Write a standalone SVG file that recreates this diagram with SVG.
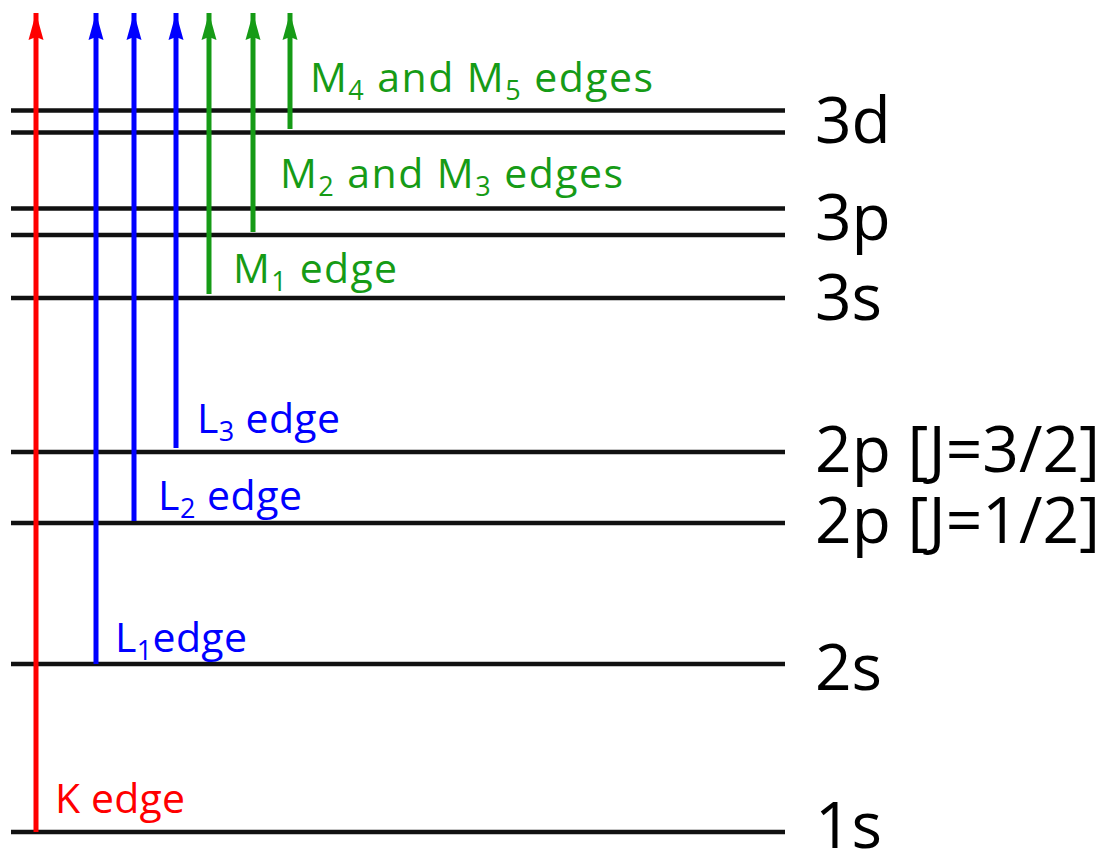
<svg xmlns="http://www.w3.org/2000/svg" width="1109" height="854" viewBox="0 0 1109 854">
<style>
.lvl{stroke:#111;stroke-width:4.5;fill:none}
.lab{font-family:"Open Sans","Noto Sans",sans-serif;font-size:64px;fill:#000}
.e{font-family:"Open Sans","Noto Sans",sans-serif;font-size:41px}
.sub{font-size:27px}
.r{fill:#ff0000}.b{fill:#0000ff}.g{fill:#169b16}
.sr{stroke:#ff0000}.sb{stroke:#0000ff}.sg{stroke:#169b16}
.sh{stroke-width:5;fill:none}
</style>
<defs>
<marker id="ah-r" markerUnits="userSpaceOnUse" markerWidth="30" markerHeight="18" refX="27" refY="9" orient="auto" viewBox="0 0 30 18"><path d="M0 1.5 L3 9 L0 16.5 L27 9 Z" fill="#ff0000"/></marker>
<marker id="ah-b" markerUnits="userSpaceOnUse" markerWidth="30" markerHeight="18" refX="27" refY="9" orient="auto" viewBox="0 0 30 18"><path d="M0 1.5 L3 9 L0 16.5 L27 9 Z" fill="#0000ff"/></marker>
<marker id="ah-g" markerUnits="userSpaceOnUse" markerWidth="30" markerHeight="18" refX="27" refY="9" orient="auto" viewBox="0 0 30 18"><path d="M0 1.5 L3 9 L0 16.5 L27 9 Z" fill="#169b16"/></marker>
</defs>
<rect width="1109" height="854" fill="#fff"/>
<g id="levels">
<g id="lvl-3d"><line class="lvl" x1="11" y1="110.5" x2="785" y2="110.5"/><line class="lvl" x1="11" y1="132.5" x2="785" y2="132.5"/><text class="lab" x="815" y="143">3d</text></g>
<g id="lvl-3p"><line class="lvl" x1="11" y1="208.5" x2="785" y2="208.5"/><line class="lvl" x1="11" y1="235" x2="785" y2="235"/><text class="lab" x="815" y="240">3p</text></g>
<g id="lvl-3s"><line class="lvl" x1="11" y1="298" x2="785" y2="298"/><text class="lab" x="815" y="320">3s</text></g>
<g id="lvl-2p32"><line class="lvl" x1="11" y1="452" x2="785" y2="452"/><text class="lab" x="815" y="472" textLength="285" lengthAdjust="spacing">2p [J=3/2]</text></g>
<g id="lvl-2p12"><line class="lvl" x1="11" y1="523" x2="785" y2="523"/><text class="lab" x="815" y="543" textLength="285" lengthAdjust="spacing">2p [J=1/2]</text></g>
<g id="lvl-2s"><line class="lvl" x1="11" y1="664" x2="785" y2="664"/><text class="lab" x="815" y="690">2s</text></g>
<g id="lvl-1s"><line class="lvl" x1="11" y1="832" x2="785" y2="832"/><text class="lab" x="815" y="848">1s</text></g>
</g>
<g id="connectors">
<line class="sh sr" x1="36" y1="832" x2="36" y2="13" marker-end="url(#ah-r)"/>
<line class="sh sb" x1="96" y1="664" x2="96" y2="13" marker-end="url(#ah-b)"/>
<line class="sh sb" x1="134" y1="521" x2="134" y2="13" marker-end="url(#ah-b)"/>
<line class="sh sb" x1="176" y1="448" x2="176" y2="13" marker-end="url(#ah-b)"/>
<line class="sh sg" x1="209" y1="294" x2="209" y2="13" marker-end="url(#ah-g)"/>
<line class="sh sg" x1="253" y1="232" x2="253" y2="13" marker-end="url(#ah-g)"/>
<line class="sh sg" x1="290" y1="129" x2="290" y2="13" marker-end="url(#ah-g)"/>
</g>
<g id="labels">
<text id="k-edge" class="e r" x="55" y="813" textLength="130" lengthAdjust="spacing">K edge</text>
<text id="l1-edge" class="e b" x="115" y="652" textLength="132" lengthAdjust="spacing">L<tspan class="sub" dy="8">1</tspan><tspan dy="-8">edge</tspan></text>
<text id="l2-edge" class="e b" x="158" y="510" textLength="144" lengthAdjust="spacing">L<tspan class="sub" dy="8">2</tspan><tspan dy="-8"> edge</tspan></text>
<text id="l3-edge" class="e b" x="197" y="433" textLength="143" lengthAdjust="spacing">L<tspan class="sub" dy="8">3</tspan><tspan dy="-8"> edge</tspan></text>
<text id="m1-edge" class="e g" x="233" y="283" textLength="164" lengthAdjust="spacing">M<tspan class="sub" dy="8">1</tspan><tspan dy="-8"> edge</tspan></text>
<text id="m23-edge" class="e g" x="280" y="188" textLength="343" lengthAdjust="spacing">M<tspan class="sub" dy="8">2</tspan><tspan dy="-8"> and M</tspan><tspan class="sub" dy="8">3</tspan><tspan dy="-8"> edges</tspan></text>
<text id="m45-edge" class="e g" x="310" y="92" textLength="343" lengthAdjust="spacing">M<tspan class="sub" dy="8">4</tspan><tspan dy="-8"> and M</tspan><tspan class="sub" dy="8">5</tspan><tspan dy="-8"> edges</tspan></text>
</g>
</svg>
